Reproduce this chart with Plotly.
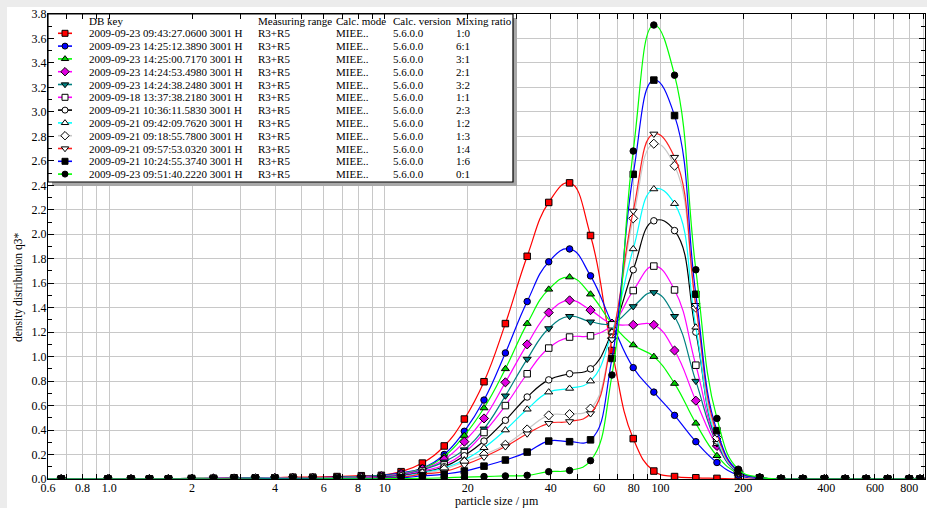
import math
import plotly.graph_objects as go

# Class midpoints of the combined R3+R5 size classes (µm)
sizes_um = [0.5, 0.67, 0.99, 1.20, 1.40, 1.64, 1.99, 2.39, 2.84, 3.39,
            3.99, 4.64, 5.48, 6.71, 8.22, 9.72, 11.46, 13.69, 16.43, 19.44,
            22.91, 27.39, 32.86, 39.34, 46.83, 55.78, 66.73, 79.69, 94.66, 112.56,
            134.47, 160.39, 191.70, 229.13, 273.86, 328.63, 393.45, 468.29, 557.77, 667.31,
            799.22, 875.0]

# Density distribution q3* per measurement
q_1_0 = [0, 0, 0, 0, 0, 0, 0.005, 0.005, 0.01, 0.01,
         0.01, 0.015, 0.015, 0.02, 0.027, 0.03, 0.06, 0.13, 0.27, 0.49,
         0.795, 1.27, 1.82, 2.26, 2.42, 1.99, 1.05, 0.33, 0.065, 0.02,
         0.01, 0.005, 0, 0, 0, 0, 0, 0, 0, 0, 0, 0]
q_6_1 = [0, 0, 0, 0, 0, 0, 0.005, 0.005, 0.005, 0.01,
         0.01, 0.01, 0.01, 0.015, 0.02, 0.03, 0.05, 0.09, 0.20, 0.39,
         0.645, 1.03, 1.45, 1.775, 1.88, 1.66, 1.27, 0.91, 0.71, 0.52,
         0.305, 0.135, 0.03, 0.005, 0, 0, 0, 0, 0, 0, 0, 0]
q_3_1 = [0, 0, 0, 0, 0, 0, 0.005, 0.005, 0.005, 0.01,
         0.01, 0.01, 0.01, 0.012, 0.02, 0.025, 0.045, 0.085, 0.185, 0.355,
         0.58, 0.90, 1.27, 1.55, 1.65, 1.51, 1.27, 1.095, 1.0, 0.78,
         0.455, 0.19, 0.045, 0.01, 0, 0, 0, 0, 0, 0, 0, 0]
q_2_1 = [0, 0, 0, 0, 0, 0, 0, 0.005, 0.005, 0.005,
         0.01, 0.01, 0.01, 0.01, 0.018, 0.022, 0.04, 0.08, 0.16, 0.305,
         0.495, 0.79, 1.10, 1.36, 1.46, 1.38, 1.27, 1.26, 1.26, 1.05,
         0.64, 0.27, 0.05, 0.01, 0, 0, 0, 0, 0, 0, 0, 0]
q_3_2 = [0, 0, 0, 0, 0, 0, 0, 0.005, 0.005, 0.005,
         0.008, 0.008, 0.01, 0.01, 0.015, 0.02, 0.035, 0.075, 0.14, 0.24,
         0.41, 0.68, 0.98, 1.23, 1.33, 1.285, 1.27, 1.41, 1.525, 1.33,
         0.80, 0.29, 0.05, 0.01, 0, 0, 0, 0, 0, 0, 0, 0]
q_1_1 = [0, 0, 0, 0, 0, 0, 0, 0.005, 0.005, 0.005,
         0.008, 0.008, 0.008, 0.01, 0.013, 0.018, 0.03, 0.065, 0.115, 0.215,
         0.38, 0.60, 0.86, 1.07, 1.16, 1.17, 1.26, 1.54, 1.74, 1.545,
         0.93, 0.30, 0.055, 0.01, 0, 0, 0, 0, 0, 0, 0, 0]
q_2_3 = [0, 0, 0, 0, 0, 0, 0, 0, 0.005, 0.005,
         0.005, 0.007, 0.007, 0.008, 0.01, 0.015, 0.025, 0.055, 0.10, 0.19,
         0.31, 0.48, 0.67, 0.81, 0.86, 0.90, 1.20, 1.71, 2.11, 2.03,
         1.20, 0.31, 0.055, 0.01, 0, 0, 0, 0, 0, 0, 0, 0]
q_1_2 = [0, 0, 0, 0, 0, 0, 0, 0, 0.005, 0.005,
         0.005, 0.005, 0.006, 0.007, 0.009, 0.012, 0.02, 0.05, 0.09, 0.155,
         0.255, 0.40, 0.57, 0.71, 0.74, 0.80, 1.20, 1.88, 2.37, 2.25,
         1.24, 0.32, 0.055, 0.01, 0, 0, 0, 0, 0, 0, 0, 0]
q_1_3 = [0, 0, 0, 0, 0, 0, 0, 0, 0.003, 0.004,
         0.005, 0.005, 0.005, 0.006, 0.008, 0.01, 0.018, 0.045, 0.08, 0.14,
         0.20, 0.28, 0.405, 0.52, 0.53, 0.575, 1.15, 2.13, 2.74, 2.56,
         1.40, 0.34, 0.06, 0.01, 0, 0, 0, 0, 0, 0, 0, 0]
q_1_4 = [0, 0, 0, 0, 0, 0, 0, 0, 0.003, 0.004,
         0.004, 0.005, 0.005, 0.005, 0.007, 0.009, 0.015, 0.04, 0.06, 0.115,
         0.18, 0.265, 0.37, 0.455, 0.47, 0.535, 1.14, 2.19, 2.82, 2.63,
         1.42, 0.37, 0.06, 0.01, 0, 0, 0, 0, 0, 0, 0, 0]
q_1_6 = [0, 0, 0, 0, 0, 0, 0, 0, 0, 0.002,
         0.003, 0.003, 0.003, 0.004, 0.005, 0.007, 0.01, 0.025, 0.04, 0.065,
         0.105, 0.155, 0.22, 0.31, 0.305, 0.32, 0.985, 2.49, 3.26, 2.97,
         1.51, 0.395, 0.065, 0.01, 0, 0, 0, 0, 0, 0, 0, 0]
q_0_1 = [0, 0, 0, 0, 0, 0, 0, 0, 0, 0,
         0, 0, 0, 0.001, 0.001, 0.002, 0.003, 0.005, 0.01, 0.015,
         0.02, 0.025, 0.03, 0.06, 0.07, 0.15, 0.85, 2.68, 3.71, 3.30,
         1.71, 0.495, 0.08, 0.015, 0, 0, 0, 0, 0, 0, 0, 0]

series_values = [q_1_0, q_6_1, q_3_1, q_2_1, q_3_2, q_1_1,
                 q_2_3, q_1_2, q_1_3, q_1_4, q_1_6, q_0_1]

# Legend table columns
db_keys = ["2009-09-23 09:43:27.0600 3001 H", "2009-09-23 14:25:12.3890 3001 H",
           "2009-09-23 14:25:00.7170 3001 H", "2009-09-23 14:24:53.4980 3001 H",
           "2009-09-23 14:24:38.2480 3001 H", "2009-09-18 13:37:38.2180 3001 H",
           "2009-09-21 10:36:11.5830 3001 H", "2009-09-21 09:42:09.7620 3001 H",
           "2009-09-21 09:18:55.7800 3001 H", "2009-09-21 09:57:53.0320 3001 H",
           "2009-09-21 10:24:55.3740 3001 H", "2009-09-23 09:51:40.2220 3001 H"]
measuring_ranges = ["R3+R5"] * 12
calc_modes = ["MIEE.."] * 12
calc_versions = ["5.6.0.0"] * 12
mixing_ratios = ["1:0", "6:1", "3:1", "2:1", "3:2", "1:1",
                 "2:3", "1:2", "1:3", "1:4", "1:6", "0:1"]
column_headers = ["DB key", "Measuring range", "Calc. mode", "Calc. version", "Mixing ratio"]

# Axis ticks
x_grid_vals = [0.6, 0.7, 0.8, 0.9, 1, 2, 3, 4, 5, 6, 7, 8, 9, 10,
               20, 30, 40, 50, 60, 70, 80, 90, 100, 200, 300, 400, 500, 600, 700, 800, 900]
x_labels = {0.6: "0.6", 0.8: "0.8", 1: "1.0", 2: "2", 4: "4", 6: "6", 8: "8",
            10: "10", 20: "20", 40: "40", 60: "60", 80: "80", 100: "100",
            200: "200", 400: "400", 600: "600", 800: "800"}

# Styles
line_colors = ["#ff0000", "#0000ff", "#00ff00", "#ff00ff", "#008080", "#ff00ff",
               "#000000", "#00ffff", "#c8c8c8", "#ff2020", "#0000ff", "#00ff00"]
marker_fills = ["#ff0000", "#0000ff", "#00d000", "#e000e0", "#008080", "#ffffff",
                "#ffffff", "#ffffff", "#ffffff", "#ffffff", "#000000", "#000000"]
marker_symbols = ["square", "circle", "triangle-up", "diamond", "triangle-down", "square",
                  "circle", "triangle-up", "diamond", "triangle-down", "square", "circle"]
marker_sizes = [6.5, 6.5, 7, 7, 7, 6.5, 6.5, 7, 7, 7, 6.5, 6.5]
legend_marker_sizes = [6, 6, 6.5, 6.5, 6.5, 6, 6, 6.5, 6.5, 6.5, 6, 6]

FONT = "Liberation Serif, Times New Roman, serif"
W, H = 927, 508
ML, MR, MT, MB = 48, 2, 14, 29
PW, PH = W - ML - MR, H - MT - MB

fig = go.Figure()

for vals, lc, mf, sym, ms, ratio in zip(series_values, line_colors, marker_fills,
                                          marker_symbols, marker_sizes, mixing_ratios):
    fig.add_trace(go.Scatter(
        x=sizes_um, y=vals, mode="lines+markers", name=ratio,
        line=dict(color=lc, width=1.2, shape="spline", smoothing=1.3),
        marker=dict(symbol=sym, size=ms, color=mf, line=dict(color="#000000", width=1)),
        showlegend=False, hoverinfo="skip",
    ))

# Legend table drawn in a pixel-based overlay frame (x2/y2 measured from the plot's top-left)
box_w, box_h, shadow = 465, 168, 4
fig.add_trace(go.Scatter(
    x=[shadow, box_w + shadow, box_w + shadow, shadow, shadow],
    y=[shadow, shadow, box_h + shadow, box_h + shadow, shadow],
    xaxis="x2", yaxis="y2", mode="lines", fill="toself",
    fillcolor="#a8a8a8", line=dict(color="#a8a8a8", width=0),
    showlegend=False, hoverinfo="skip"))
fig.add_trace(go.Scatter(
    x=[0, box_w, box_w, 0, 0], y=[0, 0, box_h, box_h, 0],
    xaxis="x2", yaxis="y2", mode="lines", fill="toself",
    fillcolor="#ffffff", line=dict(color="#000000", width=1.2),
    showlegend=False, hoverinfo="skip"))

row0, row_step, header_y = 19.3, 12.8, 7
sym_x0, sym_x1 = 10, 24
col_x = [39, 208, 286, 343, 406]
TEXT_SIZE = 11

annotations = []
for i, (lc, mf, sym, ms) in enumerate(zip(line_colors, marker_fills, marker_symbols,
                                          legend_marker_sizes)):
    ry = row0 + row_step * i
    fig.add_trace(go.Scatter(
        x=[sym_x0, sym_x1], y=[ry, ry], xaxis="x2", yaxis="y2", mode="lines",
        line=dict(color=lc, width=1.6), showlegend=False, hoverinfo="skip"))
    fig.add_trace(go.Scatter(
        x=[(sym_x0 + sym_x1) / 2], y=[ry], xaxis="x2", yaxis="y2", mode="markers",
        marker=dict(symbol=sym, size=ms, color=mf, line=dict(color="#000000", width=1)),
        showlegend=False, hoverinfo="skip"))
    row_text = [db_keys[i], measuring_ranges[i], calc_modes[i], calc_versions[i], mixing_ratios[i]]
    for cx, txt in zip(col_x, row_text):
        annotations.append(dict(x=cx, y=ry, xref="x2", yref="y2", text=txt,
                                showarrow=False, xanchor="left", yanchor="middle",
                                font=dict(family=FONT, size=TEXT_SIZE, color="#000000")))
for cx, txt in zip(col_x, column_headers):
    annotations.append(dict(x=cx, y=header_y, xref="x2", yref="y2", text=txt,
                            showarrow=False, xanchor="left", yanchor="middle",
                            font=dict(family=FONT, size=TEXT_SIZE, color="#000000")))

# Axis titles
annotations.append(dict(x=(18 - ML) / PW, y=(H - MB - 287) / PH, xref="paper", yref="paper",
                        text="density distribution q3*", textangle=-90, showarrow=False,
                        xanchor="center", yanchor="middle",
                        font=dict(family=FONT, size=11.5, color="#000000")))
annotations.append(dict(x=(497 - ML) / PW, y=(H - MB - 501) / PH, xref="paper", yref="paper",
                        text="particle size / µm", showarrow=False,
                        xanchor="center", yanchor="middle",
                        font=dict(family=FONT, size=12, color="#000000")))

# Light frame strips along the top and left edges of the page
shapes = [
    dict(type="rect", xref="paper", yref="paper", layer="below",
         x0=-ML / PW, x1=(W - ML) / PW, y0=(H - MB - 7) / PH, y1=(H - MB) / PH,
         fillcolor="#ececec", line=dict(width=0)),
    dict(type="rect", xref="paper", yref="paper", layer="below",
         x0=-ML / PW, x1=(7 - ML) / PW, y0=-MB / PH, y1=(H - MB) / PH,
         fillcolor="#ececec", line=dict(width=0)),
]

fig.update_layout(
    width=W, height=H, margin=dict(l=ML, r=MR, t=MT, b=MB),
    paper_bgcolor="#ffffff", plot_bgcolor="#ffffff",
    showlegend=False, hovermode=False,
    font=dict(family=FONT, size=12, color="#000000"),
    annotations=annotations, shapes=shapes,
    xaxis=dict(
        type="log", range=[math.log10(0.6), math.log10(912)],
        tickmode="array", tickvals=x_grid_vals,
        ticktext=[x_labels.get(v, "") for v in x_grid_vals],
        showgrid=True, gridcolor="#c8c8c8", gridwidth=1,
        ticks="inside", ticklen=5, tickcolor="#000000", tickwidth=1,
        showline=True, linecolor="#000000", linewidth=1.3, mirror="allticks",
        zeroline=False, tickfont=dict(family=FONT, size=12, color="#000000"),
        ticklabelstandoff=-3,
    ),
    yaxis=dict(
        range=[0, 3.8], tickmode="linear", tick0=0, dtick=0.2, tickformat=".1f",
        showgrid=True, gridcolor="#c8c8c8", gridwidth=1,
        ticks="inside", ticklen=6, tickcolor="#000000", tickwidth=1,
        minor=dict(dtick=0.1, ticks="inside", ticklen=4, tickcolor="#000000", showgrid=False),
        showline=True, linecolor="#000000", linewidth=1.3, mirror="allticks",
        zeroline=False, tickfont=dict(family=FONT, size=12, color="#000000"),
        ticklabelstandoff=-2,
    ),
    xaxis2=dict(overlaying="x", range=[0, PW], visible=False, fixedrange=True),
    yaxis2=dict(overlaying="y", range=[PH, 0], visible=False, fixedrange=True),
)

fig.write_html("out.html")
